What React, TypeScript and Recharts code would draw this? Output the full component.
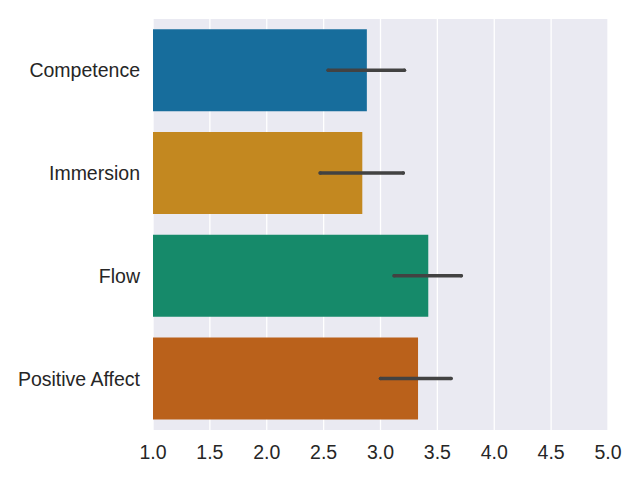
import { BarChart, Bar, XAxis, YAxis, CartesianGrid, Cell, ErrorBar } from "recharts";

const CATEGORIES = ["Competence", "Immersion", "Flow", "Positive Affect"];
const MEANS = [2.88, 2.84, 3.42, 3.33];
const CI_LOW = [2.54, 2.47, 3.12, 3.0];
const CI_HIGH = [3.21, 3.2, 3.71, 3.62];
const COLORS = ["#176d9c", "#c38820", "#168a6a", "#ba611b"];
const X_TICKS = [1.0, 1.5, 2.0, 2.5, 3.0, 3.5, 4.0, 4.5, 5.0];

const data = CATEGORIES.map((name, i) => ({
  name,
  mean: MEANS[i],
  err: [MEANS[i] - CI_LOW[i], CI_HIGH[i] - MEANS[i]],
}));

const tickStyle = { fill: "#262626", fontSize: 19.5, fontFamily: "Liberation Sans, Arial, sans-serif" };

export default function App() {
  return (
    <div style={{ position: "absolute", left: 0, top: 0, width: 640, height: 480, background: "#fff" }}>
      <BarChart
        width={640}
        height={480}
        data={data}
        layout="vertical"
        barCategoryGap="10%"
        margin={{ top: 19, right: 32, bottom: 0, left: 0 }}
      >
        <CartesianGrid horizontal={false} stroke="#ffffff" strokeWidth={1.3} fill="#eaeaf2" />
        <XAxis
          type="number"
          domain={[1, 5]}
          ticks={X_TICKS}
          tickFormatter={(v: number) => v.toFixed(1)}
          axisLine={false}
          tickLine={false}
          tickSize={0}
          tickMargin={15}
          tick={tickStyle}
          interval={0}
          height={50}
        />
        <YAxis
          type="category"
          dataKey="name"
          width={153}
          axisLine={false}
          tickLine={false}
          tickSize={0}
          tickMargin={13}
          tick={tickStyle}
        />
        <Bar dataKey="mean" isAnimationActive={false}>
          {data.map((_, i) => (
            <Cell key={i} fill={COLORS[i]} />
          ))}
          <ErrorBar
            dataKey="err"
            direction="x"
            width={0}
            stroke="#424242"
            strokeWidth={3.5}
            strokeLinecap="round"
            isAnimationActive={false}
          />
        </Bar>
      </BarChart>
    </div>
  );
}
